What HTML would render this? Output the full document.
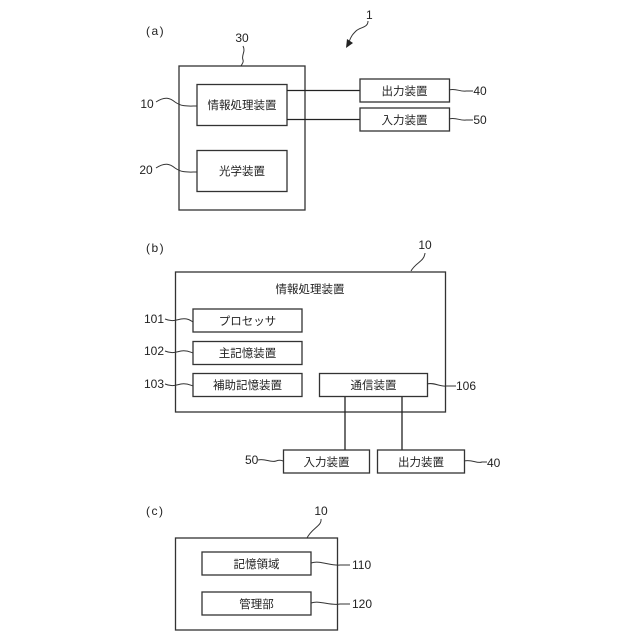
<!DOCTYPE html>
<html><head><meta charset="utf-8"><style>
html,body{margin:0;padding:0;background:#fff;width:640px;height:640px;overflow:hidden}
svg{display:block}
text{font-family:"Liberation Sans","Noto Sans CJK JP",sans-serif;font-size:11.500px;fill:#222}
.c{text-anchor:middle}
.n{font-size:12px}
rect{fill:none;stroke:#333;stroke-width:1.3}
.l{fill:none;stroke:#222;stroke-width:1.3}
.w{fill:none;stroke:#333;stroke-width:1}
</style></head><body>
<svg width="640" height="640" viewBox="0 0 640 640" xmlns="http://www.w3.org/2000/svg">
<!-- (a) -->
<text x="146" y="35" class="n" letter-spacing="1.500">(a)</text>
<text x="366" y="19" class="n">1</text>
<path class="w" d="M368 21C368 28 360 27 356 31C353 34 351 36 349 42"/>
<path d="M346 48L347 39L353 43Z" fill="#222"/>
<text x="242" y="42" class="n c">30</text>
<path class="w" d="M243 46C246 52 241 55 243 60C244 62 242 64 241 66"/>
<rect x="179" y="66" width="126" height="144"/>
<rect x="197" y="84.500" width="90" height="41"/>
<rect x="197" y="150.500" width="90" height="41"/>
<text x="242" y="109" class="c">情報処理装置</text>
<text x="242" y="175" class="c">光学装置</text>
<text x="147" y="108" class="n c">10</text>
<path class="w" d="M156 102C165 96 170 98 175 102C182 107 188 106 197 106"/>
<text x="146" y="174" class="n c">20</text>
<path class="w" d="M156 168C165 162 170 164 175 168C182 173 188 172 197 172"/>
<path class="l" d="M287 90.500H360M287 119.500H360"/>
<rect x="360" y="79" width="89.500" height="23"/>
<rect x="360" y="108" width="89.500" height="23"/>
<text x="404.500" y="95" class="c">出力装置</text>
<text x="404.500" y="124" class="c">入力装置</text>
<path class="w" d="M449 90C456 88 460 92 466 91H473M449 119C456 117 460 121 466 120H473"/>
<text x="480" y="95" class="n c">40</text>
<text x="480" y="124" class="n c">50</text>
<!-- (b) -->
<text x="146" y="252" class="n" letter-spacing="1.500">(b)</text>
<text x="425" y="249" class="n c">10</text>
<path class="w" d="M425 253C424 262 416 262 411 271"/>
<rect x="175.500" y="272" width="270" height="140"/>
<text x="310" y="293" class="c">情報処理装置</text>
<rect x="193" y="309" width="109" height="23"/>
<rect x="193" y="341.500" width="109" height="23"/>
<rect x="193" y="373.500" width="109" height="23"/>
<rect x="319.500" y="373.500" width="108" height="23"/>
<text x="247.500" y="325" class="c">プロセッサ</text>
<text x="247.500" y="357" class="c">主記憶装置</text>
<text x="247.500" y="389" class="c">補助記憶装置</text>
<text x="373.500" y="389" class="c">通信装置</text>
<text x="154" y="323" class="n c">101</text>
<text x="154" y="355" class="n c">102</text>
<text x="154" y="388" class="n c">103</text>
<path class="w" d="M165 319C172 322 176 320 181 319C187 318 190 320 193 322M165 351C172 354 176 352 181 351C187 350 190 352 193 353M165 384C172 387 176 385 181 384C187 383 190 385 193 386"/>
<path class="w" d="M427 384C434 382 440 387 446 386H456"/>
<text x="456" y="390" class="n">106</text>
<path class="l" d="M345 397V450M402 397V450"/>
<rect x="283.500" y="450" width="86" height="23"/>
<rect x="377.500" y="450" width="87" height="23"/>
<text x="326.500" y="466" class="c">入力装置</text>
<text x="421" y="466" class="c">出力装置</text>
<text x="245" y="464" class="n">50</text>
<path class="w" d="M258 460C265 458 270 463 276 461C279 460 281 460 283 461"/>
<text x="487" y="467" class="n">40</text>
<path class="w" d="M464 461C472 459 477 464 482 462H487"/>
<!-- (c) -->
<text x="146" y="515" class="n" letter-spacing="1.500">(c)</text>
<text x="321" y="515" class="n c">10</text>
<path class="w" d="M321 519C322 526 312 528 307 538"/>
<rect x="175.500" y="538" width="162" height="92"/>
<rect x="202" y="552" width="109" height="23"/>
<rect x="202" y="592" width="109" height="23"/>
<text x="256.500" y="568" class="c">記憶領域</text>
<text x="256.500" y="608" class="c">管理部</text>
<path class="w" d="M311 563C320 560 330 566 340 565H350M311 603C320 600 330 606 340 604H350"/>
<text x="352" y="569" class="n">110</text>
<text x="352" y="608" class="n">120</text>
</svg>
</body></html>
